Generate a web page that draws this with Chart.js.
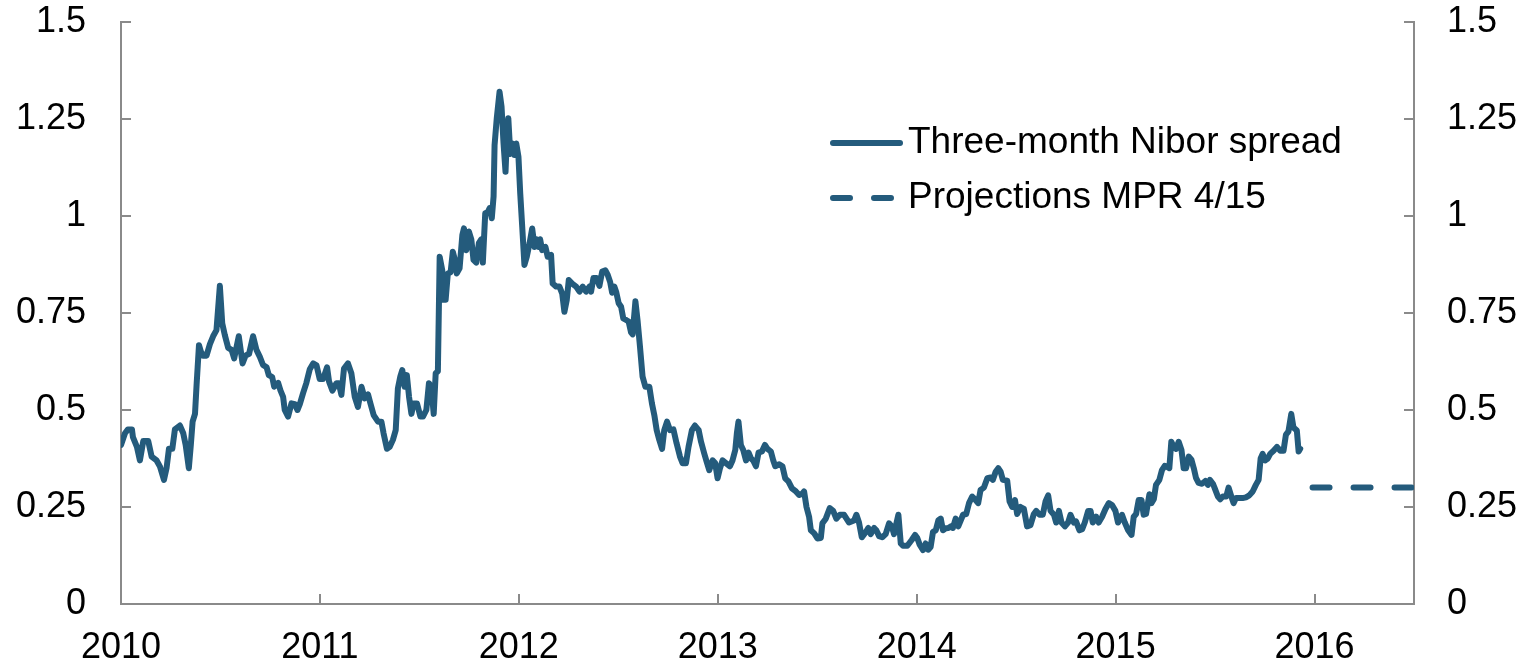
<!DOCTYPE html>
<html>
<head>
<meta charset="utf-8">
<script src="https://cdn.jsdelivr.net/npm/chart.js@4/dist/chart.umd.min.js"></script>
<style>
  html, body { margin: 0; padding: 0; background: #fff; }
  #wrap { width: 1527px; height: 666px; }
</style>
</head>
<body>
<div id="wrap"><canvas id="chart" width="1527" height="666"></canvas></div>
<script>
// three-month Nibor spread, percentage points (decimal years)
const spreadDates = [
  2010.000, 2010.020, 2010.035, 2010.055, 2010.060, 2010.080, 2010.095, 2010.112, 2010.137, 2010.154,
  2010.179, 2010.196, 2010.216, 2010.229, 2010.241, 2010.258, 2010.271, 2010.296, 2010.313, 2010.325,
  2010.341, 2010.351, 2010.360, 2010.372, 2010.380, 2010.392, 2010.402, 2010.413, 2010.430, 2010.447,
  2010.463, 2010.480, 2010.497, 2010.509, 2010.522, 2010.539, 2010.556, 2010.569, 2010.592, 2010.611,
  2010.626, 2010.644, 2010.664, 2010.681, 2010.698, 2010.714, 2010.732, 2010.743, 2010.760, 2010.770,
  2010.790, 2010.802, 2010.815, 2010.823, 2010.840, 2010.857, 2010.874, 2010.887, 2010.899, 2010.915,
  2010.932, 2010.949, 2010.966, 2010.983, 2010.999, 2011.016, 2011.036, 2011.046, 2011.063, 2011.083,
  2011.095, 2011.108, 2011.121, 2011.141, 2011.158, 2011.175, 2011.191, 2011.209, 2011.225, 2011.242,
  2011.254, 2011.270, 2011.292, 2011.309, 2011.320, 2011.337, 2011.351, 2011.367, 2011.381, 2011.392,
  2011.404, 2011.414, 2011.426, 2011.437, 2011.448, 2011.460, 2011.471, 2011.488, 2011.505, 2011.518,
  2011.535, 2011.548, 2011.560, 2011.572, 2011.582, 2011.593, 2011.602, 2011.615, 2011.622, 2011.632,
  2011.643, 2011.657, 2011.668, 2011.682, 2011.688, 2011.702, 2011.716, 2011.724, 2011.736, 2011.749,
  2011.761, 2011.772, 2011.786, 2011.799, 2011.811, 2011.819, 2011.831, 2011.844, 2011.853, 2011.864,
  2011.873, 2011.878, 2011.889, 2011.903, 2011.913, 2011.923, 2011.933, 2011.940, 2011.947, 2011.957,
  2011.967, 2011.978, 2011.987, 2011.998, 2012.007, 2012.017, 2012.028, 2012.040, 2012.054, 2012.067,
  2012.079, 2012.090, 2012.100, 2012.107, 2012.117, 2012.134, 2012.145, 2012.162, 2012.170, 2012.188,
  2012.204, 2012.218, 2012.229, 2012.241, 2012.251, 2012.268, 2012.288, 2012.305, 2012.321, 2012.338,
  2012.355, 2012.363, 2012.375, 2012.391, 2012.405, 2012.419, 2012.435, 2012.447, 2012.459, 2012.469,
  2012.480, 2012.489, 2012.502, 2012.514, 2012.525, 2012.539, 2012.552, 2012.564, 2012.572, 2012.586,
  2012.597, 2012.609, 2012.622, 2012.636, 2012.656, 2012.669, 2012.681, 2012.693, 2012.706, 2012.720,
  2012.731, 2012.745, 2012.760, 2012.777, 2012.793, 2012.810, 2012.823, 2012.840, 2012.853, 2012.870,
  2012.885, 2012.904, 2012.916, 2012.932, 2012.944, 2012.957, 2012.974, 2012.987, 2012.999, 2013.011,
  2013.024, 2013.041, 2013.061, 2013.074, 2013.088, 2013.096, 2013.104, 2013.116, 2013.128, 2013.142,
  2013.155, 2013.167, 2013.178, 2013.192, 2013.205, 2013.222, 2013.237, 2013.250, 2013.267, 2013.279,
  2013.289, 2013.309, 2013.325, 2013.339, 2013.355, 2013.373, 2013.393, 2013.409, 2013.426, 2013.434,
  2013.446, 2013.459, 2013.468, 2013.485, 2013.501, 2013.518, 2013.526, 2013.543, 2013.563, 2013.580,
  2013.596, 2013.614, 2013.635, 2013.660, 2013.685, 2013.697, 2013.710, 2013.724, 2013.741, 2013.757,
  2013.769, 2013.786, 2013.797, 2013.811, 2013.827, 2013.844, 2013.861, 2013.875, 2013.886, 2013.898,
  2013.908, 2013.920, 2013.931, 2013.953, 2013.975, 2013.992, 2014.003, 2014.015, 2014.032, 2014.045,
  2014.058, 2014.070, 2014.082, 2014.096, 2014.109, 2014.121, 2014.132, 2014.146, 2014.159, 2014.171,
  2014.182, 2014.196, 2014.209, 2014.221, 2014.233, 2014.249, 2014.263, 2014.279, 2014.293, 2014.309,
  2014.321, 2014.338, 2014.355, 2014.372, 2014.383, 2014.397, 2014.410, 2014.422, 2014.433, 2014.455,
  2014.467, 2014.480, 2014.494, 2014.505, 2014.522, 2014.539, 2014.555, 2014.572, 2014.589, 2014.601,
  2014.618, 2014.634, 2014.648, 2014.661, 2014.673, 2014.690, 2014.701, 2014.715, 2014.728, 2014.745,
  2014.761, 2014.773, 2014.790, 2014.801, 2014.818, 2014.832, 2014.845, 2014.862, 2014.874, 2014.885,
  2014.902, 2014.915, 2014.932, 2014.949, 2014.966, 2014.982, 2014.999, 2015.012, 2015.032, 2015.046,
  2015.063, 2015.080, 2015.091, 2015.103, 2015.116, 2015.130, 2015.141, 2015.153, 2015.170, 2015.180,
  2015.192, 2015.203, 2015.220, 2015.233, 2015.247, 2015.258, 2015.270, 2015.280, 2015.292, 2015.304,
  2015.317, 2015.331, 2015.342, 2015.354, 2015.368, 2015.381, 2015.393, 2015.404, 2015.417, 2015.434,
  2015.451, 2015.464, 2015.474, 2015.489, 2015.497, 2015.514, 2015.526, 2015.539, 2015.556, 2015.568,
  2015.582, 2015.593, 2015.605, 2015.622, 2015.638, 2015.655, 2015.672, 2015.689, 2015.705, 2015.719,
  2015.729, 2015.739, 2015.752, 2015.765, 2015.777, 2015.794, 2015.811, 2015.828, 2015.844, 2015.856,
  2015.869, 2015.883, 2015.894, 2015.911, 2015.920, 2015.928
]
const spreadValues = [
  0.41, 0.44, 0.45, 0.45, 0.43, 0.405, 0.37, 0.42, 0.42, 0.38,
  0.37, 0.354, 0.32, 0.35, 0.40, 0.40, 0.45, 0.46, 0.44, 0.41,
  0.35, 0.41, 0.47, 0.49, 0.565, 0.667, 0.65, 0.64, 0.64, 0.67,
  0.69, 0.706, 0.82, 0.723, 0.693, 0.66, 0.655, 0.633, 0.69, 0.62,
  0.64, 0.645, 0.69, 0.655, 0.637, 0.616, 0.61, 0.59, 0.585, 0.56,
  0.57, 0.55, 0.534, 0.50, 0.483, 0.517, 0.515, 0.50, 0.515, 0.543,
  0.57, 0.605, 0.62, 0.615, 0.58, 0.58, 0.61, 0.573, 0.55, 0.569,
  0.569, 0.539, 0.607, 0.62, 0.595, 0.534, 0.508, 0.56, 0.53, 0.54,
  0.517, 0.487, 0.47, 0.47, 0.44, 0.40, 0.405, 0.423, 0.448, 0.556,
  0.586, 0.603, 0.56, 0.59, 0.534, 0.49, 0.517, 0.517, 0.483, 0.483,
  0.50, 0.569, 0.56, 0.49, 0.595, 0.60, 0.895, 0.86, 0.784, 0.784,
  0.852, 0.855, 0.908, 0.88, 0.852, 0.865, 0.951, 0.968, 0.912, 0.96,
  0.94, 0.887, 0.88, 0.93, 0.94, 0.88, 1.007, 1.01, 1.02, 0.994,
  1.05, 1.183, 1.252, 1.32, 1.282, 1.187, 1.114, 1.204, 1.252, 1.16,
  1.187, 1.157, 1.187, 1.153, 1.058, 0.972, 0.874, 0.895, 0.93, 0.968,
  0.92, 0.94, 0.92, 0.94, 0.912, 0.92, 0.895, 0.90, 0.826, 0.818,
  0.818, 0.80, 0.753, 0.784, 0.835, 0.826, 0.818, 0.805, 0.818, 0.805,
  0.818, 0.805, 0.84, 0.84, 0.82, 0.857, 0.86, 0.848, 0.83, 0.802,
  0.818, 0.805, 0.775, 0.766, 0.736, 0.732, 0.728, 0.70, 0.695, 0.78,
  0.73, 0.663, 0.586, 0.56, 0.56, 0.517, 0.487, 0.448, 0.423, 0.40,
  0.448, 0.47, 0.448, 0.45, 0.414, 0.38, 0.363, 0.363, 0.405, 0.448,
  0.46, 0.448, 0.418, 0.388, 0.367, 0.345, 0.37, 0.363, 0.324, 0.35,
  0.37, 0.363, 0.355, 0.37, 0.397, 0.44, 0.47, 0.41, 0.397, 0.37,
  0.39, 0.375, 0.37, 0.355, 0.39, 0.393, 0.41, 0.40, 0.393, 0.37,
  0.355, 0.36, 0.355, 0.324, 0.316, 0.298, 0.29, 0.281, 0.285, 0.29,
  0.25, 0.225, 0.19, 0.182, 0.169, 0.17, 0.208, 0.22, 0.247, 0.24,
  0.22, 0.23, 0.23, 0.21, 0.215, 0.23, 0.21, 0.172, 0.183, 0.196,
  0.18, 0.196, 0.19, 0.175, 0.172, 0.18, 0.208, 0.20, 0.18, 0.208,
  0.23, 0.156, 0.15, 0.15, 0.165, 0.178, 0.17, 0.153, 0.139, 0.156,
  0.14, 0.147, 0.186, 0.19, 0.216, 0.22, 0.19, 0.195, 0.196, 0.20,
  0.196, 0.22, 0.20, 0.215, 0.23, 0.232, 0.26, 0.277, 0.27, 0.26,
  0.294, 0.30, 0.324, 0.326, 0.32, 0.341, 0.35, 0.341, 0.32, 0.318,
  0.264, 0.25, 0.268, 0.232, 0.25, 0.245, 0.20, 0.203, 0.232, 0.24,
  0.23, 0.23, 0.265, 0.28, 0.24, 0.23, 0.21, 0.24, 0.21, 0.20,
  0.21, 0.23, 0.21, 0.213, 0.19, 0.193, 0.21, 0.24, 0.24, 0.21,
  0.225, 0.21, 0.225, 0.245, 0.26, 0.255, 0.24, 0.21, 0.23, 0.21,
  0.19, 0.178, 0.225, 0.232, 0.268, 0.268, 0.23, 0.232, 0.283, 0.26,
  0.27, 0.307, 0.32, 0.345, 0.356, 0.354, 0.35, 0.418, 0.405, 0.40,
  0.418, 0.397, 0.35, 0.35, 0.38, 0.372, 0.35, 0.325, 0.312, 0.31,
  0.317, 0.307, 0.32, 0.31, 0.30, 0.277, 0.27, 0.277, 0.277, 0.30,
  0.277, 0.26, 0.273, 0.273, 0.273, 0.275, 0.28, 0.29, 0.307, 0.32,
  0.375, 0.387, 0.37, 0.375, 0.387, 0.395, 0.405, 0.395, 0.395, 0.436,
  0.445, 0.49, 0.455, 0.447, 0.393, 0.40
]
// projection from Monetary Policy Report 4/15
const projDates = [2015.99, 2016.5]
const projValues = [0.30, 0.30]

const seriesLabels = ['Three-month Nibor spread', 'Projections MPR 4/15']
const yearTicks = [2010, 2011, 2012, 2013, 2014, 2015, 2016]
const valueTicks = [0, 0.25, 0.5, 0.75, 1, 1.25, 1.5]

const LINE = '#245b7c'
const AXIS = '#8a8a8a'
const FONT = "'Liberation Sans', Arial, Helvetica, sans-serif"

const toPoints = (xs, ys) => xs.map((x, i) => ({ x, y: ys[i] }))

// inward tick marks on all three axes
const innerTicks = {
  id: 'innerTicks',
  afterDatasetsDraw(chart) {
    const { ctx, chartArea: a, scales } = chart
    const len = 10
    ctx.save()
    ctx.strokeStyle = AXIS
    ctx.lineWidth = 2
    ctx.beginPath()
    for (const v of valueTicks) {
      const y = Math.round(scales.y.getPixelForValue(v))
      ctx.moveTo(a.left, y); ctx.lineTo(a.left + len, y)
      ctx.moveTo(a.right, y); ctx.lineTo(a.right - len, y)
    }
    for (const v of yearTicks) {
      const x = Math.round(scales.x.getPixelForValue(v))
      ctx.moveTo(x, a.bottom); ctx.lineTo(x, a.bottom - len)
    }
    ctx.stroke()
    ctx.restore()
  }
}

// legend drawn inside the plot, upper right
const insideLegend = {
  id: 'insideLegend',
  afterDraw(chart) {
    const { ctx } = chart
    const x0 = 833, x1 = 900, textX = 908
    const rows = [143, 198]
    ctx.save()
    chart.data.datasets.forEach((ds, i) => {
      const y = rows[i]
      ctx.strokeStyle = ds.borderColor
      ctx.lineWidth = ds.borderWidth
      ctx.lineCap = 'round'
      ctx.setLineDash(ds.borderDash || [])
      ctx.beginPath()
      ctx.moveTo(x0, y)
      ctx.lineTo(ds.borderDash ? x0 + 58 : x1, y)
      ctx.stroke()
      ctx.setLineDash([])
      ctx.fillStyle = '#000'
      ctx.font = '37px ' + FONT
      ctx.textBaseline = 'middle'
      ctx.textAlign = 'left'
      ctx.fillText(ds.label, textX, y)
    })
    ctx.restore()
  }
}

const tickFont = { family: FONT, size: 36 }
const noEdgePadding = s => { s.paddingTop = 0; s.paddingBottom = 0 }

new Chart(document.getElementById('chart'), {
  type: 'line',
  data: {
    datasets: [
      {
        label: seriesLabels[0],
        data: toPoints(spreadDates, spreadValues),
        borderColor: LINE,
        borderWidth: 6,
        borderJoinStyle: 'round',
        borderCapStyle: 'round',
        pointRadius: 0,
        tension: 0,
        fill: false
      },
      {
        label: seriesLabels[1],
        data: toPoints(projDates, projValues),
        borderColor: LINE,
        borderWidth: 6,
        borderDash: [17, 24],
        borderCapStyle: 'round',
        pointRadius: 0,
        tension: 0,
        fill: false
      }
    ]
  },
  options: {
    responsive: false,
    animation: false,
    devicePixelRatio: 1,
    layout: { padding: { top: 22, left: 0, right: 0, bottom: 0 } },
    plugins: { legend: { display: false }, tooltip: { enabled: false } },
    scales: {
      x: {
        type: 'linear',
        position: 'bottom',
        min: 2010,
        max: 2016.5,
        afterBuildTicks: s => { s.ticks = yearTicks.map(v => ({ value: v })) },
        afterFit: s => { s.height = 62 },
        grid: { drawOnChartArea: false, drawTicks: false },
        border: { display: true, color: AXIS, width: 2 },
        ticks: { font: tickFont, color: '#000', padding: 22, maxRotation: 0, autoSkip: false, callback: v => String(v) }
      },
      y: {
        position: 'left',
        min: 0,
        max: 1.5,
        afterBuildTicks: s => { s.ticks = valueTicks.map(v => ({ value: v })) },
        afterFit: s => { s.width = 121; noEdgePadding(s) },
        grid: { drawOnChartArea: false, drawTicks: false },
        border: { display: true, color: AXIS, width: 2 },
        ticks: { font: tickFont, color: '#000', padding: 35, callback: v => String(v) }
      },
      y2: {
        position: 'right',
        min: 0,
        max: 1.5,
        afterBuildTicks: s => { s.ticks = valueTicks.map(v => ({ value: v })) },
        afterFit: s => { s.width = 113; noEdgePadding(s) },
        grid: { drawOnChartArea: false, drawTicks: false },
        border: { display: true, color: AXIS, width: 2 },
        ticks: { font: tickFont, color: '#000', padding: 33, callback: v => String(v) }
      }
    }
  },
  plugins: [innerTicks, insideLegend]
})
</script>
</body>
</html>
